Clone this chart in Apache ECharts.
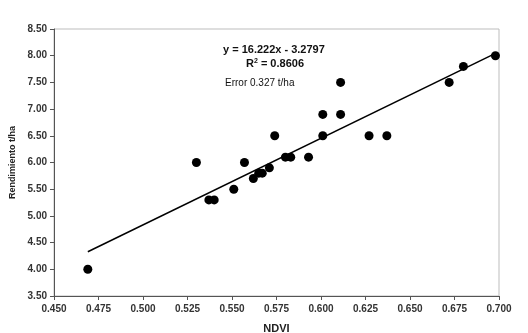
<!DOCTYPE html>
<html>
<head>
<meta charset="utf-8">
<script src="https://cdn.jsdelivr.net/npm/echarts@6/dist/echarts.min.js"></script>
<style>
  html, body { margin: 0; padding: 0; background: #fff; }
  #chart_box { width: 528px; height: 333px; }
</style>
</head>
<body>
<div id="chart_box"></div>
<script>
// datos
var ndvi = [0.469, 0.530, 0.537, 0.540, 0.551, 0.557, 0.562, 0.565, 0.567, 0.571,
            0.574, 0.580, 0.583, 0.593, 0.601, 0.601, 0.611, 0.611, 0.627, 0.637,
            0.672, 0.680, 0.698];
var rendimiento = [4.0, 6.0, 5.3, 5.3, 5.5, 6.0, 5.7, 5.8, 5.8, 5.9,
                   6.5, 6.1, 6.1, 6.1, 6.5, 6.9, 6.9, 7.5, 6.5, 6.5,
                   7.5, 7.8, 8.0];
// recta de regresion
var slope = 16.222;
var intercept = -3.2797;
var lineX = [0.469, 0.698];

var mychart = echarts.init(document.getElementById('chart_box'));

var points = ndvi.map(function (x, i) { return [x, rendimiento[i]]; });
var linePts = lineX.map(function (x) { return [x, slope * x + intercept]; });

var font = 'Liberation Sans, Arial, sans-serif';

var option = {
    animation: false,
    grid: {
        left: 54, right: 29, top: 29, bottom: 37,
        outerBoundsMode: 'none',
        containLabel: false,
        show: true,
        borderColor: '#bdbdbd',
        borderWidth: 1
    },
    xAxis: {
        type: 'value',
        min: 0.45, max: 0.70, interval: 0.025,
        name: 'NDVI',
        nameLocation: 'middle',
        nameGap: 27,
        nameTextStyle: { fontFamily: font, fontWeight: 'bold', fontSize: 11, color: '#222' },
        axisLine: { lineStyle: { color: '#555', width: 1 } },
        axisTick: { show: true, length: 4, lineStyle: { color: '#555' } },
        splitLine: { show: false },
        axisLabel: {
            fontFamily: font, fontWeight: 'bold', fontSize: 10, color: '#333', margin: 8,
            formatter: function (v) { return v.toFixed(3); }
        }
    },
    yAxis: {
        type: 'value',
        min: 3.5, max: 8.5, interval: 0.5,
        name: 'Rendimiento t/ha',
        nameLocation: 'middle',
        nameGap: 35,
        nameRotate: 90,
        nameTextStyle: { fontFamily: font, fontWeight: 'bold', fontSize: 9, color: '#222' },
        axisLine: { show: true, lineStyle: { color: '#555', width: 1 } },
        axisTick: { show: true, length: 4, lineStyle: { color: '#555' } },
        splitLine: { show: false },
        axisLabel: {
            fontFamily: font, fontWeight: 'bold', fontSize: 10, color: '#333', margin: 7,
            formatter: function (v) { return v.toFixed(2); }
        }
    },
    graphic: [
        {
            type: 'text', left: 223, top: 44,
            style: { text: 'y = 16.222x - 3.2797', font: 'bold 11px ' + font, fill: '#111' }
        },
        {
            type: 'text', left: 246, top: 58,
            style: {
                text: '{r|R}{s|2}{r| = 0.8606}',
                rich: {
                    r: { font: 'bold 11px ' + font, fill: '#111', verticalAlign: 'bottom' },
                    s: { font: 'bold 7px ' + font, fill: '#111', verticalAlign: 'top' }
                }
            }
        },
        {
            type: 'text', left: 225, top: 78,
            style: { text: 'Error 0.327 t/ha', font: '10px ' + font, fill: '#111' }
        }
    ],
    series: [
        {
            name: 'regresion',
            type: 'line',
            data: linePts,
            showSymbol: false,
            lineStyle: { color: '#000', width: 1.5 },
            z: 1
        },
        {
            name: 'datos',
            type: 'scatter',
            data: points,
            symbolSize: 9,
            itemStyle: { color: '#000', opacity: 1 },
            z: 2
        }
    ]
};

mychart.setOption(option);
</script>
</body>
</html>
